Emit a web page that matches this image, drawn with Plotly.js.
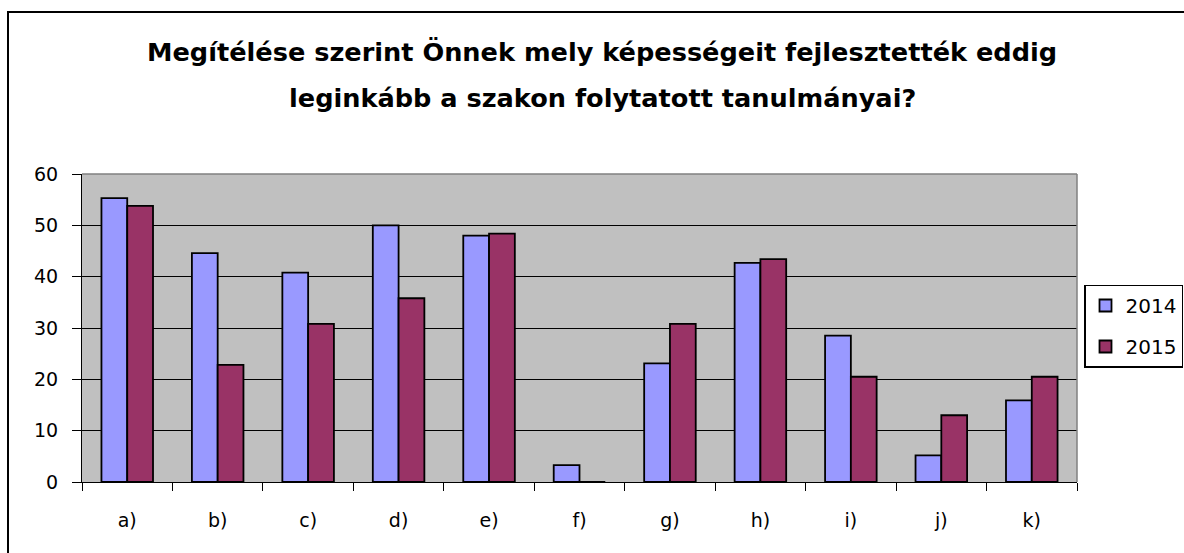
<!DOCTYPE html>
<html>
<head>
<meta charset="utf-8">
<script src="https://cdn.plot.ly/plotly-3.0.1.min.js"></script>
<style>
html,body{margin:0;padding:0;background:#fff;}
#chart{width:1184px;height:553px;}
</style>
</head>
<body>
<div id="chart"></div>
<script>
const categories = ["a)", "b)", "c)", "d)", "e)", "f)", "g)", "h)", "i)", "j)", "k)"];
const values2014 = [55.3, 44.6, 40.8, 50.0, 48.0, 3.3, 23.1, 42.7, 28.5, 5.2, 15.9];
const values2015 = [53.8, 22.8, 30.8, 35.8, 48.4, 0, 30.8, 43.4, 20.5, 13.0, 20.5];
const seriesNames = ["2014", "2015"];
const yTicks = [0, 10, 20, 30, 40, 50, 60];
const titleLines = ["Megítélése szerint Önnek mely képességeit fejlesztették eddig",
                    "leginkább a szakon folytatott tanulmányai?"];

const FONT = "DejaVu Sans, Liberation Sans, Arial, sans-serif";
const L = 82, R = 107, T = 174, B = 71, W = 1184, H = 553;
const pw = W - L - R, ph = H - T - B;
const px = x => (x - L) / pw;
const py = y => (H - B - y) / ph;

const traces = [
  {type: "bar", name: seriesNames[0], x: categories, y: values2014, legendgroup: "g1",
   marker: {color: "#9999FF", line: {color: "#000", width: 1.8}}},
  {type: "bar", name: seriesNames[1], x: categories, y: values2015, legendgroup: "g2",
   marker: {color: "#993366", line: {color: "#000", width: 1.8}}}
];

const layout = {
  width: W, height: H,
  margin: {l: L, r: R, t: T, b: B, autoexpand: false},
  paper_bgcolor: "#fff",
  plot_bgcolor: "#C0C0C0",
  barmode: "group",
  bargap: 0.43,
  bargroupgap: 0,
  showlegend: true,
  font: {family: FONT, color: "#000"},
  xaxis: {
    type: "category",
    showgrid: false, zeroline: false,
    showline: true, linecolor: "#000", linewidth: 1,
    ticks: "outside", tickson: "boundaries", ticklen: 8, tickcolor: "#000", tickwidth: 1,
    tickfont: {family: FONT, size: 19, color: "#000"},
    ticklabelstandoff: 21
  },
  yaxis: {
    range: [0, 60],
    tickvals: yTicks,
    showgrid: true, gridcolor: "#000", gridwidth: 1,
    zeroline: false,
    showline: true, linecolor: "#000", linewidth: 1,
    ticks: "outside", ticklen: 9, tickcolor: "#000", tickwidth: 1,
    tickfont: {family: FONT, size: 19, color: "#000"},
    ticklabelstandoff: 10
  },
  legend: {
    x: px(1084), xanchor: "left",
    y: py(326), yanchor: "middle",
    bordercolor: "#000", borderwidth: 1.5,
    bgcolor: "#fff",
    font: {family: FONT, size: 20, color: "#000"},
    traceorder: "grouped",
    tracegroupgap: 12,
    itemwidth: 30
  },
  annotations: [
    {xref: "paper", yref: "paper", x: px(602), y: py(52), xanchor: "center", yanchor: "middle",
     text: "<b>" + titleLines[0] + "</b>", showarrow: false,
     font: {family: FONT, size: 25.6, color: "#000"}},
    {xref: "paper", yref: "paper", x: px(602), y: py(98), xanchor: "center", yanchor: "middle",
     text: "<b>" + titleLines[1] + "</b>", showarrow: false,
     font: {family: FONT, size: 25.6, color: "#000"}}
  ],
  shapes: [
    {type: "rect", xref: "paper", yref: "paper", x0: px(8), x1: px(1195), y0: py(12), y1: py(565),
     line: {color: "#000", width: 2}, fillcolor: "rgba(0,0,0,0)", layer: "below"},
    {type: "line", xref: "paper", yref: "paper", x0: 0, x1: 1, y0: 1, y1: 1,
     line: {color: "#808080", width: 1.5}},
    {type: "line", xref: "paper", yref: "paper", x0: 1, x1: 1, y0: 0, y1: 1,
     line: {color: "#808080", width: 1.5}}
  ]
};

Plotly.newPlot("chart", traces, layout, {displayModeBar: false, staticPlot: true});
</script>
</body>
</html>
